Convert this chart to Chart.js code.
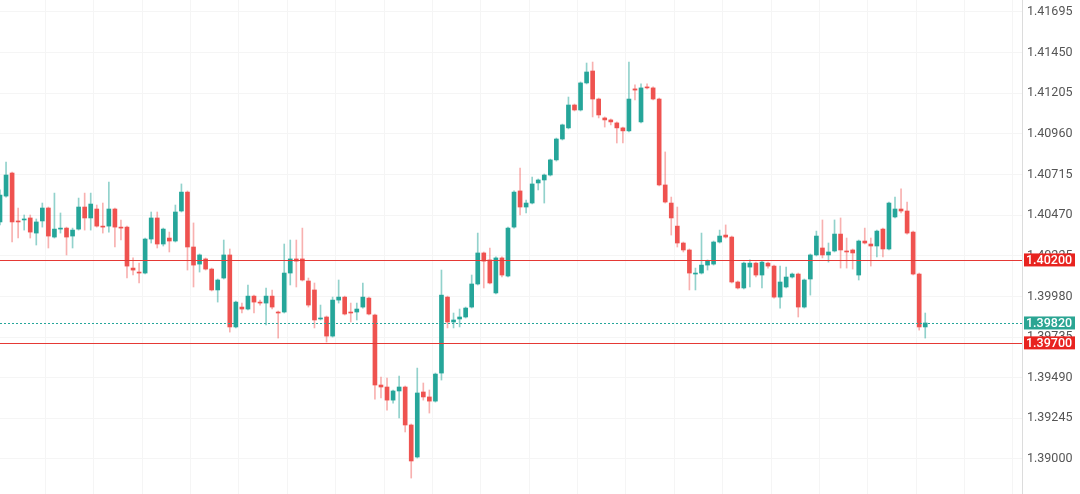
<!DOCTYPE html>
<html>
<head>
<meta charset="utf-8">
<script src="https://cdn.jsdelivr.net/npm/chart.js@4.4.1/dist/chart.umd.min.js"></script>
<style>
  html, body { margin: 0; padding: 0; background: #fff; }
  #wrap { width: 1080px; height: 494px; position: relative; }
</style>
</head>
<body>
<div id="wrap"><canvas id="candles"></canvas></div>
<script>
// candle values (oldest first)
const opens = [
  1.40429, 1.40585, 1.40724, 1.40435, 1.40441, 1.40453, 1.40362, 1.40435, 1.40513, 1.40338,
  1.40386, 1.40392, 1.40344, 1.40386, 1.40519, 1.40453, 1.40507, 1.40404, 1.40404, 1.40507,
  1.40398, 1.40398, 1.40151, 1.40127, 1.40121, 1.40326, 1.40453, 1.40296, 1.40332, 1.40314,
  1.40495, 1.40609, 1.40278, 1.40175, 1.40206, 1.40145, 1.40019, 1.40091, 1.40230, 1.39796,
  1.39916, 1.39904, 1.39982, 1.39946, 1.39940, 1.39982, 1.39886, 1.39886, 1.40121, 1.40206,
  1.40206, 1.40073, 1.40019, 1.39844, 1.39856, 1.39741, 1.39958, 1.39976, 1.39886, 1.39886,
  1.39916, 1.39970, 1.39868, 1.39446, 1.39434, 1.39355, 1.39410, 1.39434, 1.39205, 1.39012,
  1.39404, 1.39374, 1.39349, 1.39518, 1.39976, 1.39826, 1.39844, 1.39856, 1.39916, 1.40055,
  1.40242, 1.40200, 1.40001, 1.40212, 1.40103, 1.40398, 1.40616, 1.40519, 1.40543, 1.40664,
  1.40682, 1.40712, 1.40803, 1.40929, 1.40996, 1.41134, 1.41104, 1.41267, 1.41339, 1.41170,
  1.41056, 1.41044, 1.41026, 1.40996, 1.40978, 1.41231, 1.41032, 1.41243, 1.41237, 1.41170,
  1.40652, 1.40543, 1.40404, 1.40302, 1.40260, 1.40115, 1.40121, 1.40169, 1.40175, 1.40308,
  1.40350, 1.40338, 1.40067, 1.40031, 1.40157, 1.40181, 1.40109, 1.40181, 1.40163, 1.39976,
  1.40037, 1.40097, 1.40115, 1.39916, 1.40085, 1.40230, 1.40272, 1.40230, 1.40254, 1.40356,
  1.40254, 1.40260, 1.40109, 1.40314, 1.40296, 1.40284, 1.40386, 1.40266, 1.40459, 1.40507,
  1.40495, 1.40368, 1.40115, 1.39796
];
const highs = [
  1.40622, 1.40790, 1.40730, 1.40513, 1.40471, 1.40471, 1.40447, 1.40543, 1.40519, 1.40603,
  1.40483, 1.40398, 1.40392, 1.40573, 1.40603, 1.40603, 1.40531, 1.40543, 1.40670, 1.40513,
  1.40441, 1.40404, 1.40212, 1.40181, 1.40332, 1.40489, 1.40489, 1.40392, 1.40368, 1.40531,
  1.40658, 1.40616, 1.40423, 1.40236, 1.40212, 1.40151, 1.40085, 1.40320, 1.40266, 1.39952,
  1.39940, 1.40049, 1.39988, 1.39958, 1.40031, 1.40019, 1.39892, 1.40296, 1.40320, 1.40320,
  1.40392, 1.40091, 1.40061, 1.39928, 1.39862, 1.39976, 1.40079, 1.39982, 1.39940, 1.39940,
  1.40061, 1.39976, 1.39874, 1.39494, 1.39488, 1.39416, 1.39500, 1.39440, 1.39211, 1.39548,
  1.39458, 1.39416, 1.39518, 1.40139, 1.39982, 1.39880, 1.39904, 1.39916, 1.40109, 1.40362,
  1.40248, 1.40272, 1.40218, 1.40218, 1.40398, 1.40616, 1.40754, 1.40561, 1.40700, 1.40688,
  1.40718, 1.40808, 1.40935, 1.41019, 1.41182, 1.41140, 1.41273, 1.41387, 1.41393, 1.41176,
  1.41062, 1.41050, 1.41032, 1.41001, 1.41393, 1.41255, 1.41261, 1.41261, 1.41243, 1.41176,
  1.40851, 1.40579, 1.40519, 1.40308, 1.40266, 1.40151, 1.40362, 1.40200, 1.40314, 1.40380,
  1.40411, 1.40344, 1.40073, 1.40187, 1.40200, 1.40187, 1.40193, 1.40187, 1.40169, 1.40163,
  1.40157, 1.40121, 1.40121, 1.40085, 1.40236, 1.40374, 1.40441, 1.40302, 1.40441, 1.40453,
  1.40332, 1.40266, 1.40320, 1.40392, 1.40332, 1.40380, 1.40392, 1.40549, 1.40579, 1.40628,
  1.40549, 1.40374, 1.40121, 1.39880
];
const lows = [
  1.40411, 1.40579, 1.40308, 1.40332, 1.40380, 1.40332, 1.40290, 1.40398, 1.40272, 1.40332,
  1.40362, 1.40230, 1.40272, 1.40380, 1.40380, 1.40380, 1.40398, 1.40362, 1.40368, 1.40278,
  1.40320, 1.40091, 1.40109, 1.40061, 1.40115, 1.40302, 1.40272, 1.40284, 1.40248, 1.40308,
  1.40489, 1.40139, 1.40037, 1.40127, 1.40139, 1.40013, 1.39946, 1.40085, 1.39765, 1.39790,
  1.39880, 1.39898, 1.39880, 1.39928, 1.39808, 1.39904, 1.39729, 1.39880, 1.40049, 1.40037,
  1.40073, 1.39916, 1.39790, 1.39838, 1.39705, 1.39735, 1.39940, 1.39868, 1.39826, 1.39838,
  1.39910, 1.39868, 1.39361, 1.39368, 1.39295, 1.39337, 1.39247, 1.39163, 1.38885, 1.39006,
  1.39355, 1.39277, 1.39343, 1.39476, 1.39790, 1.39790, 1.39796, 1.39850, 1.39910, 1.40049,
  1.40031, 1.40055, 1.39995, 1.40097, 1.40097, 1.40392, 1.40471, 1.40483, 1.40537, 1.40622,
  1.40543, 1.40706, 1.40796, 1.40923, 1.40990, 1.41098, 1.41098, 1.41261, 1.41062, 1.41056,
  1.41001, 1.41014, 1.40905, 1.40905, 1.40971, 1.41164, 1.41026, 1.41231, 1.41164, 1.40646,
  1.40543, 1.40350, 1.40278, 1.40248, 1.40019, 1.40019, 1.40115, 1.40139, 1.40169, 1.40302,
  1.40332, 1.40061, 1.40025, 1.40025, 1.40037, 1.40097, 1.40031, 1.40151, 1.39970, 1.39910,
  1.40031, 1.40091, 1.39856, 1.39910, 1.39988, 1.40224, 1.40212, 1.40187, 1.40248, 1.40151,
  1.40151, 1.40145, 1.40079, 1.40296, 1.40163, 1.40218, 1.40218, 1.40260, 1.40453, 1.40483,
  1.40356, 1.40109, 1.39777, 1.39729
];
const closes = [
  1.40591, 1.40712, 1.40429, 1.40429, 1.40447, 1.40368, 1.40429, 1.40513, 1.40344, 1.40386,
  1.40392, 1.40338, 1.40380, 1.40519, 1.40453, 1.40537, 1.40404, 1.40398, 1.40507, 1.40398,
  1.40392, 1.40163, 1.40139, 1.40121, 1.40326, 1.40453, 1.40296, 1.40386, 1.40314, 1.40489,
  1.40609, 1.40278, 1.40169, 1.40230, 1.40145, 1.40019, 1.40079, 1.40230, 1.39796, 1.39946,
  1.39904, 1.39982, 1.39946, 1.39940, 1.39982, 1.39916, 1.39880, 1.40121, 1.40206, 1.40193,
  1.40079, 1.39928, 1.39838, 1.39850, 1.39741, 1.39958, 1.39976, 1.39874, 1.39880, 1.39904,
  1.39976, 1.39874, 1.39446, 1.39434, 1.39355, 1.39410, 1.39434, 1.39205, 1.38988, 1.39398,
  1.39374, 1.39349, 1.39512, 1.39988, 1.39826, 1.39838, 1.39856, 1.39910, 1.40055, 1.40242,
  1.40193, 1.40061, 1.40212, 1.40109, 1.40392, 1.40609, 1.40519, 1.40543, 1.40658, 1.40682,
  1.40712, 1.40803, 1.40929, 1.41014, 1.41134, 1.41104, 1.41267, 1.41333, 1.41170, 1.41074,
  1.41044, 1.41032, 1.40996, 1.40978, 1.41170, 1.41224, 1.41237, 1.41237, 1.41170, 1.40652,
  1.40549, 1.40453, 1.40302, 1.40260, 1.40121, 1.40121, 1.40169, 1.40193, 1.40308, 1.40344,
  1.40338, 1.40067, 1.40031, 1.40181, 1.40181, 1.40109, 1.40187, 1.40163, 1.39976, 1.40067,
  1.40097, 1.40115, 1.39916, 1.40079, 1.40230, 1.40344, 1.40230, 1.40248, 1.40356, 1.40260,
  1.40248, 1.40242, 1.40314, 1.40302, 1.40284, 1.40374, 1.40266, 1.40543, 1.40507, 1.40495,
  1.40362, 1.40115, 1.39796, 1.39820
];

// price axis ticks and marked levels
const tickValues = [1.39000, 1.39245, 1.39490, 1.39735, 1.39980, 1.40225, 1.40470, 1.40715, 1.40960, 1.41205, 1.41450, 1.41695];
const levelPrices = [1.40200, 1.39700];
const lastPrice = 1.39820;

const slotCount = 170; // candle slots incl. empty space on the right
const labels = Array.from({ length: slotCount }, (_, i) => String(i));

const UP = '#26a69a';
const DOWN = '#ef5350';
const UP_WICK = 'rgba(38,166,154,0.5)';
const DOWN_WICK = 'rgba(239,83,80,0.45)';
const LEVEL = '#e53935';

const isUp = (i) => closes[i] >= opens[i];

const bodies = opens.map((o, i) => [o, closes[i]]);
const wicks = lows.map((l, i) => [l, highs[i]]);

// draws the level lines and the price tags on the axis
const priceLines = {
  id: 'priceLines',
  afterDatasetsDraw(chart) {
    const { ctx, chartArea, scales } = chart;
    const y = scales.y;
    ctx.save();
    ctx.lineWidth = 1;

    levelPrices.forEach(p => {
      const py = Math.round(y.getPixelForValue(p)) + 0.5;
      ctx.strokeStyle = LEVEL;
      ctx.beginPath();
      ctx.moveTo(chartArea.left, py);
      ctx.lineTo(chartArea.right, py);
      ctx.stroke();
    });

    const ly = Math.round(y.getPixelForValue(lastPrice)) + 0.5;
    ctx.strokeStyle = '#26a69a';
    ctx.setLineDash([2, 2]);
    ctx.beginPath();
    ctx.moveTo(chartArea.left, ly);
    ctx.lineTo(chartArea.right, ly);
    ctx.stroke();
    ctx.setLineDash([]);

    const tag = (p, color) => {
      const py = y.getPixelForValue(p);
      ctx.fillStyle = color;
      ctx.fillRect(chartArea.right + 2, py - 6.5, 51, 13);
      ctx.fillStyle = '#fff';
      ctx.font = '500 12.5px Roboto, "Liberation Sans", sans-serif';
      ctx.textBaseline = 'middle';
      ctx.textAlign = 'left';
      ctx.fillText(p.toFixed(5), chartArea.right + 4, py + 0.5);
    };
    levelPrices.forEach(p => tag(p, '#e8231f'));
    tag(lastPrice, '#2aa593');
    ctx.restore();
  }
};

new Chart(document.getElementById('candles'), {
  type: 'bar',
  data: {
    labels: labels,
    datasets: [
      {
        label: 'wick',
        data: wicks,
        grouped: false,
        barThickness: 1,
        backgroundColor: (c) => isUp(c.dataIndex) ? UP_WICK : DOWN_WICK,
        borderWidth: 0
      },
      {
        label: 'body',
        data: bodies,
        grouped: false,
        barThickness: 4,
        minBarLength: 1,
        backgroundColor: (c) => isUp(c.dataIndex) ? UP : DOWN,
        borderWidth: 0
      }
    ]
  },
  options: {
    responsive: true,
    maintainAspectRatio: false,
    animation: false,
    layout: { padding: 0 },
    plugins: {
      legend: { display: false },
      tooltip: { enabled: false }
    },
    scales: {
      x: {
        offset: false,
        ticks: { display: false },
        border: { display: false },
        grid: {
          drawTicks: false,
          color: (c) => c.index % 8 === 0 ? '#f5f5f5' : 'rgba(0,0,0,0)'
        },
        afterFit: (s) => { s.height = 0; s.paddingLeft = 0; s.paddingRight = 0; }
      },
      y: {
        position: 'right',
        min: 1.38789,
        max: 1.41767,
        afterBuildTicks: (s) => { s.ticks = tickValues.map(v => ({ value: v })); },
        ticks: {
          padding: 5,
          color: '#555',
          font: { family: 'Roboto, "Liberation Sans", sans-serif', size: 12.5 },
          callback: (v) => Number(v).toFixed(5)
        },
        border: { display: true, color: '#dcdcdc' },
        grid: { drawTicks: false, color: '#f5f5f5' },
        afterFit: (s) => { s.width = 58; s.paddingTop = 0; s.paddingBottom = 0; }
      }
    }
  },
  plugins: [priceLines]
});
</script>
</body>
</html>
